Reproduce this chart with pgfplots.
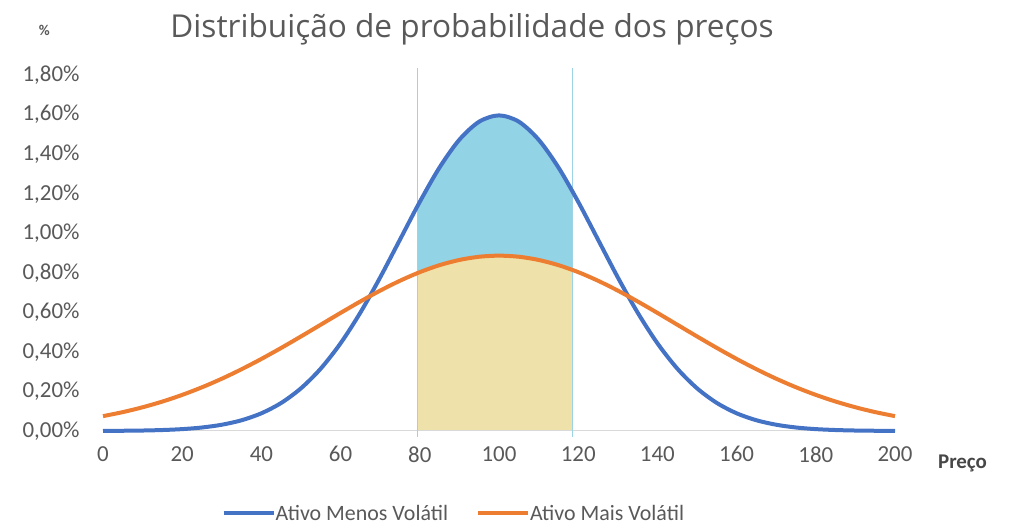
\documentclass[border=0pt]{standalone}
\usepackage{fontspec}
\setmainfont{Carlito}
\newfontfamily\titlefont{Open Sans}
\usepackage{pgfplots}
\pgfplotsset{compat=1.18}
\usepackage{pgfplotstable}
\definecolor{cblue}{HTML}{4472C4}
\definecolor{corange}{HTML}{ED7D31}
\definecolor{cfillblue}{HTML}{92D3E6}
\definecolor{cfillkhaki}{HTML}{EEE1AA}
\definecolor{cvline}{HTML}{9CD3E6}
\definecolor{ctext}{HTML}{595959}
\definecolor{cbase}{HTML}{D9D9D9}

\pgfplotstableread{
x y
0 0.0005
5 0.0012
10 0.0024
15 0.0049
20 0.0095
25 0.0177
30 0.0317
35 0.0543
40 0.0896
45 0.1419
50 0.2160
55 0.3158
60 0.4437
65 0.5989
70 0.7768
75 0.9679
80 1.1588
85 1.3329
90 1.4731
95 1.5642
100 1.5958
105 1.5642
110 1.4731
115 1.3329
120 1.1588
125 0.9679
130 0.7768
135 0.5989
140 0.4437
145 0.3158
150 0.2160
155 0.1419
160 0.0896
165 0.0543
170 0.0317
175 0.0177
180 0.0095
185 0.0049
190 0.0024
195 0.0012
200 0.0005
}\bluedata

\pgfplotstableread{
x y
0 0.0751
5 0.0955
10 0.1200
15 0.1489
20 0.1826
25 0.2211
30 0.2644
35 0.3124
40 0.3645
45 0.4201
50 0.4782
55 0.5377
60 0.5972
65 0.6551
70 0.7099
75 0.7598
80 0.8032
85 0.8386
90 0.8649
95 0.8811
100 0.8865
105 0.8811
110 0.8649
115 0.8386
120 0.8032
125 0.7598
130 0.7099
135 0.6551
140 0.5972
145 0.5377
150 0.4782
155 0.4201
160 0.3645
165 0.3124
170 0.2644
175 0.2211
180 0.1826
185 0.1489
190 0.1200
195 0.0955
200 0.0751
}\orangedata

\pgfplotstableread{
x y
79.5 1.1401
80 1.1588
85 1.3329
90 1.4731
95 1.5642
100 1.5958
105 1.5642
110 1.4731
115 1.3329
118.5 1.2136
}\bluefill

\pgfplotstableread{
x y
79.5 0.7991
80 0.8032
85 0.8386
90 0.8649
95 0.8811
100 0.8865
105 0.8811
110 0.8649
115 0.8386
118.5 0.8147
}\orangefill

\begin{document}
\begin{tikzpicture}
\useasboundingbox (0,0) rectangle (1013bp,524bp);
\begin{axis}[
  at={(103bp,93bp)}, anchor=south west,
  scale only axis, width=792bp, height=356bp,
  xmin=0, xmax=200, ymin=0, ymax=1.8,
  clip=false,
  axis line style={draw=none},
  major tick length=0pt,
  xtick={0,20,40,60,80,100,120,140,160,180,200},
  xticklabels={0,20,40,60,80,100,120,140,160,180,200},
  ytick={0,0.2,0.4,0.6,0.8,1.0,1.2,1.4,1.6,1.8},
  yticklabels={{0,00\%},{0,20\%},{0,40\%},{0,60\%},{0,80\%},{1,00\%},{1,20\%},{1,40\%},{1,60\%},{1,80\%}},
  tick label style={font=\fontsize{23}{26}\selectfont, text=ctext},
  xticklabel style={yshift=-12bp},
  yticklabel style={xshift=-20bp},
  legend style={at={(rel axis cs:0.443,-0.231)}, anchor=center, draw=none, fill=none,
    legend columns=2, font=\fontsize{22}{25}\selectfont, text=ctext,
    /tikz/every even column/.append style={column sep=26bp},
    inner sep=0pt},
  legend image code/.code={\draw[#1, line width=4bp] (0bp,0bp) -- (50bp,0bp);},
  legend cell align=left,
]
\addplot[draw=none, fill=cfillblue, forget plot] table[x=x,y=y]{\bluefill} \closedcycle;
\addplot[draw=none, fill=cfillkhaki, forget plot] table[x=x,y=y]{\orangefill} \closedcycle;
\draw[cbase, line width=1bp] (rel axis cs:0,0) -- (rel axis cs:1,0);
\addplot[cvline, line width=0.7bp, forget plot] coordinates {(79.5,-0.03) (79.5,1.835)};
\addplot[cvline, line width=0.7bp, forget plot] coordinates {(118.5,-0.03) (118.5,1.835)};
\addplot[cblue, line width=4bp, smooth, line join=round] table[x=x,y=y]{\bluedata};
\addlegendentry{\hspace{-2bp}Ativo Menos Volátil}
\addplot[corange, line width=4bp, smooth, line join=round] table[x=x,y=y]{\orangedata};
\addlegendentry{\hspace{-2bp}Ativo Mais Volátil}
\node[font=\titlefont\fontsize{31.7}{36}\selectfont, text=ctext, anchor=center] at (rel axis cs:0.466,1.127) {Distribuição de probabilidade dos preços};
\node[font=\bfseries\fontsize{15}{17}\selectfont, text=ctext] at (rel axis cs:-0.074,1.125) {\%};
\node[font=\bfseries\fontsize{21}{24}\selectfont, text=ctext!80!black, anchor=west] at (rel axis cs:1.05,-0.09) {Preço};
\end{axis}
\end{tikzpicture}
\end{document}
